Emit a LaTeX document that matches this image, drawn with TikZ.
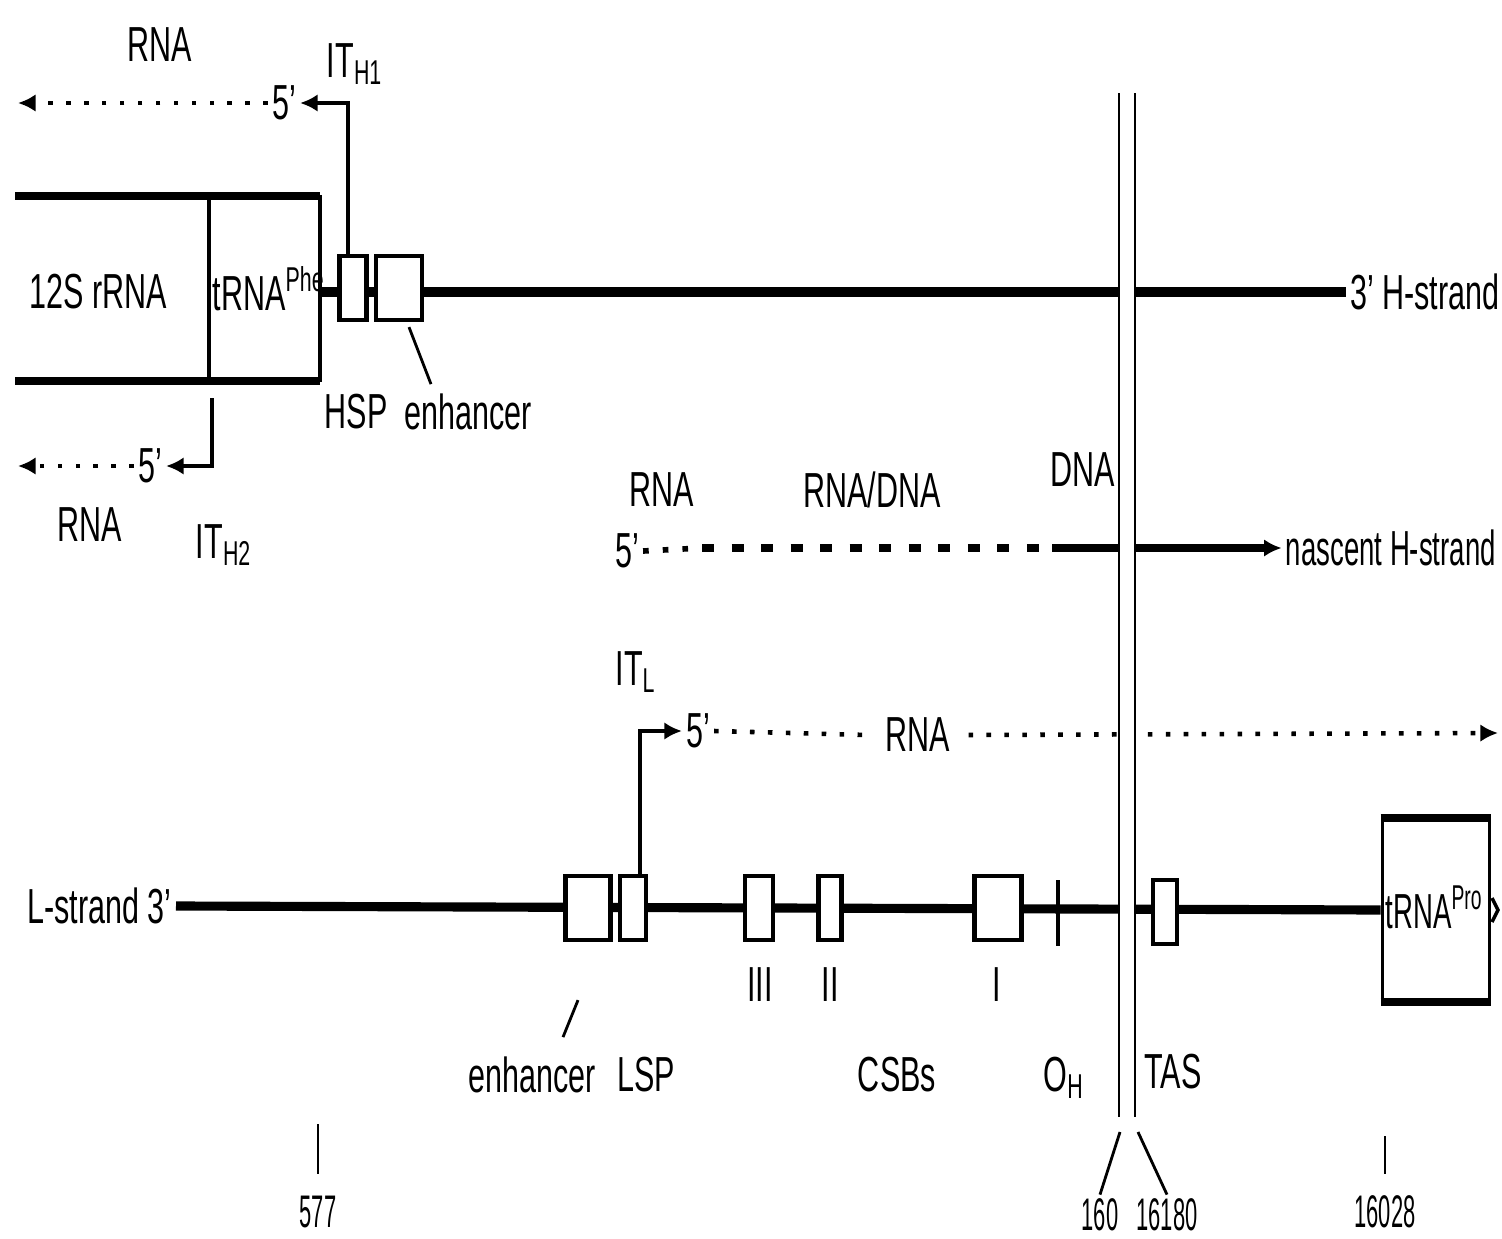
\documentclass[tikz,border=0pt]{standalone}
\usepackage{fontspec}
\setmainfont{Liberation Sans}[FakeStretch=0.62]
\newfontfamily\numfont{Liberation Sans}[FakeStretch=0.48]
\newfontfamily\narrowfont{Liberation Sans}[FakeStretch=0.56]
\usetikzlibrary{arrows.meta,calc}
\tikzset{
  strand/.style={line width=2.6pt},
  gene/.style={draw,fill=white,line width=1.2pt,minimum height=0.64cm,inner sep=0pt},
  rna/.style={line width=1.3pt,dash pattern=on 1.3pt off 3.8pt},
  prom/.style={line width=1.3pt,-{Latex[length=5pt,width=5pt]}},
  lbl/.style={inner sep=1pt,font=\fontsize{14}{16}\selectfont},
  num/.style={inner sep=1pt,font=\numfont\fontsize{13}{15}\selectfont},
  tip/.style={-{Latex[length=5pt,width=5pt]}}
}
\begin{document}
\begin{tikzpicture}[x=0.01cm,y=-0.01cm]
\useasboundingbox (0,0) rectangle (1502,1239);
% H-strand, top
\draw[line width=2pt] (15,196) -- (320,196);
\draw[line width=2pt] (15,381) -- (320,381);
\draw[line width=1.2pt] (320,195) -- (320,382);
\draw[line width=1pt] (209,196) -- (209,381);
\node[lbl] (rrna) at (98,292) {12S rRNA};
\node[lbl,anchor=base west,inner sep=0pt] (phe) at (212,310) {tRNA\textsuperscript{Phe}};
\node[lbl,anchor=west] (hstr) at (1346,292) {3' H-strand};
\draw[strand] (320,292) -- (hstr.west);
\node[gene,minimum width=0.27cm] (hsp) at (353,288) {};
\node[gene,minimum width=0.46cm] (enhH) at (399,288) {};
\node[lbl] (hspl) at (356,412) {HSP};
\node[lbl] (enhHl) at (468,412) {enhancer};
\draw[line width=0.8pt] (enhH.south) ++(10,5) -- ++(22,57);
% transcripts from HSP
\node[lbl] (rnaA) at (160,45) {RNA};
\node[lbl] (ith1) at (355,64) {IT\textsubscript{H1}};
\node[lbl] (fiveA) at (284,103) {5'};
\coordinate (endA) at (18,103);
\draw[prom] ($(hsp.north)+(-5,0)$) |- (fiveA.east);
\draw[rna,tip] (fiveA.west) -- (endA);
\node[lbl] (fiveB) at (150,466) {5'};
\coordinate (endB) at (18,466);
\node[lbl] (rnaB) at (90,525) {RNA};
\node[lbl] (ith2) at (224,545) {IT\textsubscript{H2}};
\draw[prom] (212,398) |- (fiveB.east);
\draw[rna,tip] (fiveB.west) -- (endB);
% nascent H-strand
\node[lbl] (rnaN) at (662,490) {RNA};
\node[lbl] (hyb) at (872,490) {RNA/DNA};
\node[lbl] (dna) at (1083,470) {DNA};
\node[lbl] (fiveN) at (627,551) {5'};
\coordinate (nDash) at (702,548);
\coordinate (nDna) at (1052,548);
\node[lbl,font=\narrowfont\fontsize{14}{16}\selectfont,anchor=east] (nasc) at (1500,548) {nascent H-strand};
\draw[line width=1.6pt,dash pattern=on 1.6pt off 4pt] (fiveN.east) -- (nDash);
\draw[line width=2pt,dash pattern=on 3.4pt off 5pt] (nDash) -- (nDna);
\draw[line width=2pt,tip] (nDna) -- (nasc.west);
% L-strand
\node[lbl,anchor=east] (lstr) at (176,906) {L-strand 3'};
\node[draw,line width=1pt,minimum width=1.07cm,minimum height=1.8cm] (trnapro) at (1436,910) {};
\node[lbl,font=\narrowfont\fontsize{14}{16}\selectfont,anchor=base west,inner sep=0pt] (pro) at (1385,928) {tRNA\textsuperscript{Pro}};
\draw[line width=2.2pt] (trnapro.north west) -- (trnapro.north east);
\draw[line width=2.2pt] (trnapro.south west) -- (trnapro.south east);
\draw[line width=1pt] (1492,898) -- (1498,910) -- (1492,922);
\draw[strand] (lstr.east) -- (trnapro.west);
\node[gene,minimum width=0.45cm] (enhL) at (588,908) {};
\node[gene,minimum width=0.26cm] (lsp) at (633,908) {};
\node[gene,minimum width=0.28cm] (csb3) at (759,908) {};
\node[gene,minimum width=0.23cm] (csb2) at (830,908) {};
\node[gene,minimum width=0.47cm] (csb1) at (998,908) {};
\node[gene,minimum width=0.24cm] (tas) at (1165,912) {};
\draw[line width=1pt] (1058,880) -- (1058,946);
% transcript from LSP
\node[lbl] (itl) at (636,672) {IT\textsubscript{L}};
\node[lbl] (fiveL) at (698,731) {5'};
\node[lbl,inner sep=5pt] (rnaL) at (918,735) {RNA};
\coordinate (endL) at (1498,733);
\draw[prom] ($(lsp.north)+(7,0)$) |- (fiveL.west);
\draw[rna] (fiveL.east) -- (rnaL.west);
\draw[rna,tip] (rnaL.east) -- (endL);
% labels below
\node[lbl] (c3) at (760,985) {III};
\node[lbl] (c2) at (830,985) {II};
\node[lbl] (c1) at (997,985) {I};
\node[lbl] (enhLl) at (532,1075) {enhancer};
\node[lbl] (lspl) at (646,1075) {LSP};
\node[lbl] (csbs) at (897,1075) {CSBs};
\node[lbl] (oh) at (1064,1078) {O\textsubscript{H}};
\node[lbl] (tasl) at (1173,1072) {TAS};
\draw[line width=0.8pt] (enhL.south) ++(-10,58) -- ++(-15,37);
% map positions
\node[num] (p577) at (318,1212) {577};
\node[num] (p160) at (1100,1215) {160};
\node[num] (p16180) at (1167,1215) {16180};
\node[num] (p16028) at (1385,1212) {16028};
\draw[line width=0.8pt] (p577.north) ++(0,-18) -- ++(0,-50);
\draw[line width=0.8pt] (p16028.north) ++(0,-18) -- ++(0,-38);
% break in the circle
\fill[white] (1119,93) rectangle (1135,1117);
\draw[line width=0.6pt] (1119,93) -- (1119,1117);
\draw[line width=0.7pt] (1135,93) -- (1135,1117);
\draw[line width=0.8pt] (1120,1132) -- (p160.north);
\draw[line width=0.8pt] (1138,1132) -- (p16180.north);
\end{tikzpicture}
\end{document}
